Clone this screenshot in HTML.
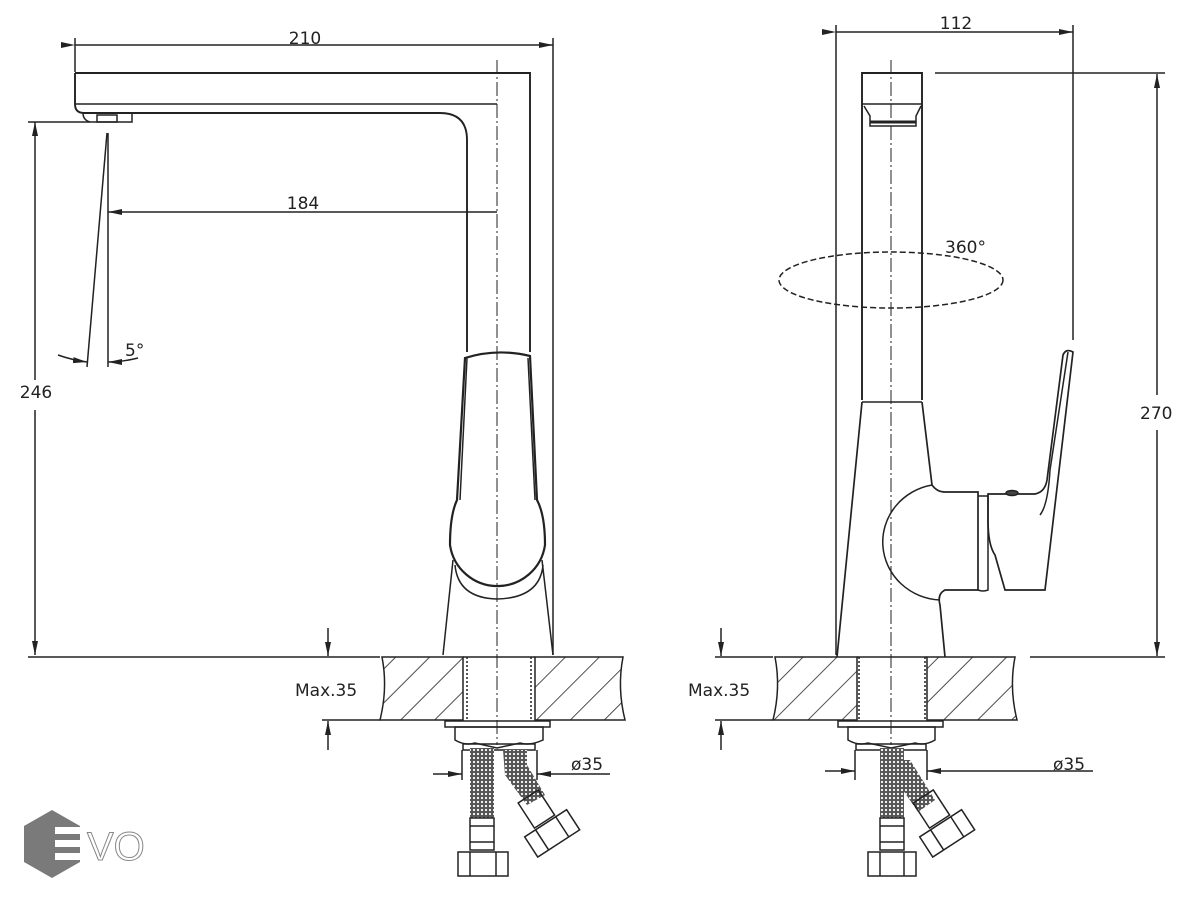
<!DOCTYPE html>
<html><head><meta charset="utf-8"><style>
html,body{margin:0;padding:0;background:#fff;}
svg{display:block;}
text{font-family:"DejaVu Sans","Liberation Sans",sans-serif;font-size:17px;fill:#222;}
</style></head><body>
<svg width="1190" height="900" viewBox="0 0 1190 900" xmlns="http://www.w3.org/2000/svg">
<defs>
<pattern id="h" patternUnits="userSpaceOnUse" width="24" height="24" patternTransform="rotate(45)">
<line x1="0" y1="0" x2="0" y2="24" stroke="#222" stroke-width="1.6"/>
</pattern>
<marker id="a" markerWidth="14" markerHeight="8" refX="14" refY="4" orient="auto" markerUnits="userSpaceOnUse">
<path d="M0,1 L14,4 L0,7 Z" fill="#222"/></marker>
<pattern id="m" patternUnits="userSpaceOnUse" width="4" height="4">
<rect width="4" height="4" fill="#555"/><circle cx="2" cy="2" r="1.1" fill="#fff"/></pattern>
</defs>
<g fill="none" stroke="#222" stroke-width="1.5">
<!-- ===== LEFT VIEW ===== -->
<line x1="75" y1="38" x2="75" y2="72"/>
<line x1="553" y1="38" x2="553" y2="655"/>
<line x1="75" y1="45" x2="553" y2="45" marker-start="url(#a)" marker-end="url(#a)"/>
<path d="M75,73 H530 V352" stroke-width="1.9"/>
<path d="M75,73 V104 Q75,113 84,113 H440 Q467,113 467,140 V352" stroke-width="1.9"/>
<line x1="75" y1="104" x2="497" y2="104"/>
<path d="M83,113 Q83,120 90,122 H132 V113" />
<rect x="97" y="115" width="20" height="7"/>
<line x1="497" y1="60" x2="497" y2="745" stroke-width="1" stroke-dasharray="14,3,2,3"/>
<line x1="497" y1="212" x2="108" y2="212" marker-end="url(#a)"/>
<line x1="28" y1="122" x2="90" y2="122"/>
<line x1="35" y1="380" x2="35" y2="122" marker-end="url(#a)"/>
<line x1="35" y1="410" x2="35" y2="655" marker-end="url(#a)"/>
<line x1="28" y1="657" x2="380" y2="657"/>
<line x1="108" y1="133" x2="108" y2="367"/>
<line x1="107" y1="133" x2="87" y2="367"/>
<path d="M58,355 Q72,360 87,362" marker-end="url(#a)"/>
<path d="M138,358 Q122,362 108,362" marker-end="url(#a)"/>
<path d="M465,358 Q497,348 530,356 L537,500 Q545,515 545,545 A48,48 0 0 1 450,545 Q450,515 457,500 Z" stroke-width="2.2"/>
<path d="M455,565 Q458,598 497,599 Q540,598 543,565"/>
<path d="M460,500 L467,358 M535,500 L528,358"/>
<path d="M453,560 L443,655 M542,560 L553,655"/>
<path d="M382,657 H463 V720 H380 Q388,688 382,657 Z" fill="url(#h)"/>
<path d="M535,657 H623 Q617,688 625,720 H535 Z" fill="url(#h)"/>
<line x1="463" y1="657" x2="535" y2="657"/>
<line x1="467" y1="657" x2="467" y2="720" stroke-dasharray="2,2"/>
<line x1="531" y1="657" x2="531" y2="720" stroke-dasharray="2,2"/>
<line x1="322" y1="720" x2="380" y2="720"/>
<line x1="328" y1="628" x2="328" y2="656" marker-end="url(#a)"/>
<line x1="328" y1="750" x2="328" y2="721" marker-end="url(#a)"/>
<rect x="445" y="721" width="105" height="6"/>
<path d="M455,727 H543 V740 Q530,746 520,743 L497,748 L475,743 Q465,746 455,740 Z"/>
<rect x="463" y="744" width="72" height="6"/>
<line x1="462" y1="750" x2="462" y2="780"/><line x1="537" y1="750" x2="537" y2="780"/>
<line x1="433" y1="774" x2="462" y2="774" marker-end="url(#a)"/>
<line x1="610" y1="774" x2="537" y2="774" marker-end="url(#a)"/>
<rect x="470" y="748" width="24" height="70" fill="url(#m)" stroke="none"/>
<path d="M503,750 H527 V765 L545,795 L527,805 L505,775 Z" fill="url(#m)" stroke="none"/>
<rect x="470" y="818" width="24" height="32"/>
<line x1="470" y1="826" x2="494" y2="826"/><line x1="470" y1="842" x2="494" y2="842"/>
<path d="M458,852 H508 V876 H458 Z"/><line x1="470" y1="852" x2="470" y2="876"/><line x1="496" y1="852" x2="496" y2="876"/>
<g transform="rotate(-33 550 830)">
<rect x="538" y="790" width="24" height="30"/><rect x="525" y="822" width="50" height="24"/>
<line x1="538" y1="822" x2="538" y2="846"/><line x1="562" y1="822" x2="562" y2="846"/></g>
<!-- ===== RIGHT VIEW ===== -->
<line x1="836" y1="25" x2="836" y2="655"/>
<line x1="1073" y1="25" x2="1073" y2="340"/>
<line x1="836" y1="32" x2="1073" y2="32" marker-start="url(#a)" marker-end="url(#a)"/>
<line x1="935" y1="73" x2="1165" y2="73"/>
<line x1="1030" y1="657" x2="1165" y2="657"/>
<line x1="1157" y1="395" x2="1157" y2="74" marker-end="url(#a)"/>
<line x1="1157" y1="430" x2="1157" y2="656" marker-end="url(#a)"/>
<path d="M862,400 V73 H922 V400" stroke-width="1.9"/>
<line x1="862" y1="104" x2="922" y2="104"/>
<path d="M864,106 L870,116 V126 H916 V116 L921,106"/>
<line x1="870" y1="122" x2="916" y2="122" stroke-width="3"/>
<line x1="891" y1="60" x2="891" y2="745" stroke-width="1" stroke-dasharray="14,3,2,3"/>
<ellipse cx="891" cy="280" rx="112" ry="28" stroke-dasharray="6,3"/>
<line x1="862" y1="402" x2="922" y2="402"/>
<path d="M862,402 L837,657 M922,402 L932,485 Q937,492 945,492 H978 V590 H945 Q937,594 940,605 L945,657" stroke-width="1.7"/>
<path d="M932,485 A60,58 0 0 0 940,600"/>
<path d="M978,496 H988 V590 Q983,592 978,590"/>
<path d="M988,494 H1035 Q1045,492 1047,480 L1063,355 Q1066,348 1073,352 L1045,590 H1005 L995,555 Q988,545 988,520 Z" stroke-width="1.7"/>
<path d="M1068,352 L1050,470 Q1048,505 1040,515"/>
<ellipse cx="1012" cy="493" rx="6" ry="2.5" fill="#444"/>
<path d="M775,657 H857 V720 H773 Q781,688 775,657 Z" fill="url(#h)"/>
<path d="M927,657 H1015 Q1009,688 1017,720 H927 Z" fill="url(#h)"/>
<line x1="857" y1="657" x2="927" y2="657"/>
<line x1="859" y1="657" x2="859" y2="720" stroke-dasharray="2,2"/>
<line x1="925" y1="657" x2="925" y2="720" stroke-dasharray="2,2"/>
<line x1="715" y1="657" x2="773" y2="657"/>
<line x1="715" y1="720" x2="773" y2="720"/>
<line x1="721" y1="628" x2="721" y2="656" marker-end="url(#a)"/>
<line x1="721" y1="750" x2="721" y2="721" marker-end="url(#a)"/>
<rect x="838" y="721" width="105" height="6"/>
<path d="M848,727 H935 V740 Q925,746 915,743 L891,748 L868,743 Q858,746 848,740 Z"/>
<rect x="856" y="744" width="70" height="6"/>
<line x1="855" y1="750" x2="855" y2="780"/><line x1="927" y1="750" x2="927" y2="780"/>
<line x1="825" y1="771" x2="855" y2="771" marker-end="url(#a)"/>
<line x1="1093" y1="771" x2="927" y2="771" marker-end="url(#a)"/>
<rect x="880" y="748" width="24" height="70" fill="url(#m)" stroke="none"/>
<path d="M896,760 H910 L935,800 L918,812 L896,780 Z" fill="url(#m)" stroke="none"/>
<rect x="880" y="818" width="24" height="32"/>
<line x1="880" y1="826" x2="904" y2="826"/><line x1="880" y1="842" x2="904" y2="842"/>
<path d="M868,852 H916 V876 H868 Z"/><line x1="880" y1="852" x2="880" y2="876"/><line x1="904" y1="852" x2="904" y2="876"/>
<g transform="rotate(-33 945 830)">
<rect x="933" y="790" width="24" height="30"/><rect x="920" y="822" width="50" height="24"/>
<line x1="933" y1="822" x2="933" y2="846"/><line x1="957" y1="822" x2="957" y2="846"/></g>
</g>
<text x="305" y="44" text-anchor="middle">210</text>
<text x="303" y="209" text-anchor="middle">184</text>
<text x="36" y="398" text-anchor="middle">246</text>
<text x="125" y="356">5°</text>
<text x="295" y="696">Max.35</text>
<text x="571" y="770">ø35</text>
<text x="956" y="29" text-anchor="middle">112</text>
<text x="945" y="253">360°</text>
<text x="1140" y="419">270</text>
<text x="688" y="696">Max.35</text>
<text x="1053" y="770">ø35</text>
<polygon points="52,810 80,826 80,862 52,878 24,862 24,826" fill="#7a7a7a"/>
<g fill="#fff"><rect x="55" y="827" width="30" height="7"/><rect x="55" y="840" width="30" height="7"/><rect x="55" y="853" width="30" height="7"/></g>
<text x="87" y="860" style="font-family:'Liberation Sans',sans-serif;font-size:40px;fill:#fff;stroke:#888;stroke-width:1">VO</text>
</svg>
</body></html>
